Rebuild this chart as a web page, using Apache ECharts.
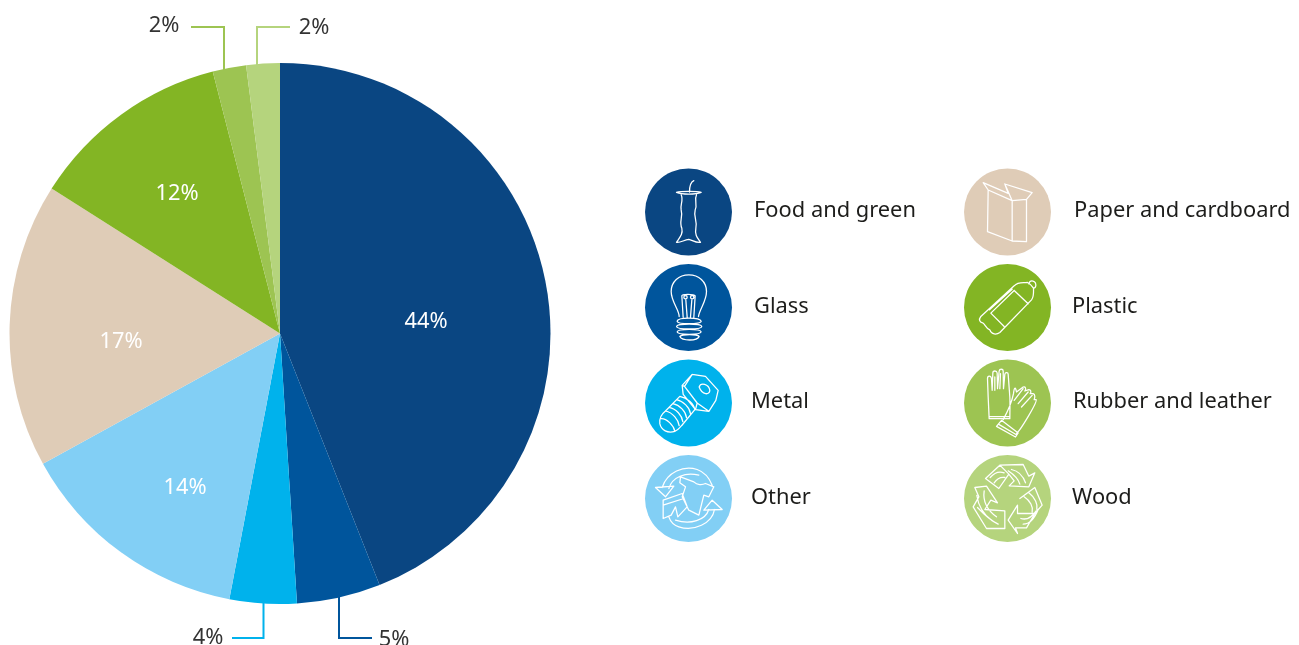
<!DOCTYPE html>
<html>
<head>
<meta charset="utf-8">
<style>html,body{margin:0;padding:0;background:#fff}#chart{width:1299px;height:645px}</style>
<script src="https://cdn.jsdelivr.net/npm/echarts@6/dist/echarts.min.js"></script>
</head>
<body>
<div id="chart"></div>
<script>
// Waste composition by material
var categories = ['Food and green', 'Glass', 'Metal', 'Other', 'Paper and cardboard', 'Plastic', 'Rubber and leather', 'Wood'];
var shares = [44, 5, 4, 14, 17, 12, 2, 2];
var colors = ['#0a4682', '#00559c', '#00b2ec', '#82cff5', '#dfccb7', '#83b524', '#9dc452', '#b5d47d'];

// Percentage label anchors on the page
var labelAnchors = [[426, 322], [394, 640], [208, 638], [185, 488], [121, 342], [177, 194], [164, 26], [314, 28]];
// Elbow leaders for the slices too narrow to hold a label
var leaders = {
  1: [[339, 595], [339, 638], [372, 638]],
  2: [[263.5, 603], [263.5, 638], [232, 638]],
  6: [[224, 70], [224, 27], [191, 27]],
  7: [[257, 65], [257, 27], [290, 27]]
};

// Key layout: circle centres and text starts per material
var keyCircles = [[688.5, 212], [688.5, 307.5], [688.5, 403], [688.5, 498.5], [1007.5, 212], [1007.5, 307.5], [1007.5, 403], [1007.5, 498.5]];
var keyTextX = [754, 754, 751, 751, 1074, 1072, 1073, 1072];
var keyTextY = [211, 307, 402, 498, 211, 307, 402, 498];

// Line-art pictograms, drawn at 3x in a box whose reference point is iconCentres[i]
var iconCentres = [[144, 156], [144, 443], [144, 158], [144, 445], [158, 156], [158, 443], [158, 158], [158, 445]];
var iconPaths = [
  // apple core
  'M160 62C150 66 147 80 147 97M108 97C125 104 165 104 182 97C170 93 120 93 108 97ZM122 104C130 120 118 135 122 150C128 170 115 185 124 205C128 222 118 232 108 247C120 249 130 240 145 238C155 240 165 249 180 247C172 235 162 225 166 205C172 185 158 170 164 150C172 135 160 120 168 104',
  // light bulb
  'M116 470C116 450 92 425 92 395C92 365 115 345 145 345C175 345 198 365 198 395C198 425 176 450 174 470M128 472L124 408C124 402 160 402 164 408L160 472M140 472L136 420M150 472L154 420M130 412A5 5 0 1 0 140 412A5 5 0 1 0 130 412M150 412A5 5 0 1 0 160 412A5 5 0 1 0 150 412M110 484C112 472 178 472 182 484C184 494 110 494 110 484ZM108 500C110 490 182 490 184 500C184 510 108 510 108 500ZM110 516C112 506 180 506 182 516C182 526 110 526 110 516ZM118 530C125 522 170 522 176 530C170 544 125 544 118 530Z',
  // bolt
  'M155 72L195 78L233 120L226 150L205 183L165 178L128 132L125 105ZM155 72L132 108L170 158L205 183M132 108L125 105M170 158L165 178M176 110C180 95 205 100 208 120C208 135 185 135 176 110ZM118 138C140 142 160 160 163 178M108 148C128 152 148 172 150 190M97 160C118 164 136 184 138 202M86 171C107 175 125 196 127 214M75 182C96 186 114 208 116 226M62 205C78 204 100 225 103 243M75 182C62 192 56 205 58 220C62 240 82 250 103 243C112 240 118 232 125 224M118 138L75 182M163 178L125 224',
  // recycling arrows round a shirt and a box
  'M65 412C80 365 130 345 170 358C190 365 205 380 215 405M85 415C95 380 135 365 175 375M45 412L100 408L75 440ZM245 478L215 450L190 480ZM222 478C215 520 160 545 115 530C100 525 90 515 85 500M205 478C195 510 150 525 105 510M120 380L160 395C170 405 185 405 195 400L220 410L205 440L190 435L175 495L145 480L125 440L135 410L118 398ZM68 450L125 430L140 470L112 500L105 470L92 495L68 505ZM68 465L130 445',
  // cardboard box
  'M100 90L172 122L172 243L98 215ZM172 122L215 118L215 245L172 243M100 90L85 68L160 100M150 72L232 98L215 118M150 72L160 100M172 122L150 72',
  // bottle
  'M222 372C226 358 244 362 243 378C242 384 236 386 236 386M218 368C205 370 190 365 178 378L78 470C70 480 75 488 85 490C92 495 92 505 105 510C110 525 125 525 135 518L230 420C238 410 236 395 236 385C232 378 226 372 218 368ZM178 392L220 432M108 460L148 500M172 388L104 450M178 392L108 460',
  // pair of gloves
  'M103 205L100 140L98 85C98 75 108 75 110 85L112 120L114 68C114 60 126 60 127 68L128 115L133 62C134 55 145 55 145 62L146 115L150 72C151 65 160 66 160 72L165 140C166 155 165 190 165 205ZM103 199L165 199M145 208C155 190 170 160 176 130C178 110 182 108 185 125L205 110C212 108 215 115 210 122L222 118C228 118 230 125 226 130L235 130C242 132 240 142 238 148L244 148C248 155 200 235 185 250M125 228L140 210L190 248L182 260ZM132 222L186 254M120 80L120 120M137 70L135 115M178 150L205 115M190 160L220 125M200 170L232 135',
  // recycling arrows with wood grain
  'M92 385L135 345L162 372L132 415ZM135 345L205 343L222 378L240 368L222 410L163 407L178 392L162 372M106 382C118 368 132 362 148 368M118 398C126 386 136 380 150 382M170 358C190 362 205 378 212 398M160 362C175 372 190 385 195 402M60 412L95 408L128 458L108 450L90 478L150 482L150 535L95 535L55 470L72 440ZM66 436C70 465 82 490 112 512M88 422C84 450 95 478 125 500M68 472C85 490 105 510 130 522M195 445L240 412L262 465L240 490L188 490L188 465L160 510L188 550L182 533L215 533L240 490M208 440C226 452 236 470 232 486M222 428C240 442 250 462 246 478M198 505C215 510 232 500 244 482M205 522C222 522 238 508 250 478'
];

// One key entry: filled disc, pictogram and material name
function renderKeyEntry(params) {
  var i = params.dataIndex;
  var c = keyCircles[i];
  return {
    type: 'group',
    children: [{
      type: 'circle',
      shape: { cx: c[0], cy: c[1], r: 43.5 },
      style: { fill: colors[i] }
    }, {
      type: 'path',
      x: c[0] - iconCentres[i][0] / 3,
      y: c[1] - iconCentres[i][1] / 3,
      scaleX: 1 / 3,
      scaleY: 1 / 3,
      shape: { pathData: iconPaths[i] },
      style: { fill: 'none', stroke: '#fff', lineWidth: 3.8, lineJoin: 'round', lineCap: 'round' }
    }, {
      type: 'text',
      x: keyTextX[i],
      y: keyTextY[i],
      style: {
        text: categories[i],
        fill: '#1d1d1b',
        font: '21.85px "Noto Sans"',
        textAlign: 'left',
        textVerticalAlign: 'middle'
      }
    }]
  };
}

var chart = echarts.init(document.getElementById('chart'), null, { renderer: 'canvas' });
chart.setOption({
  animation: false,
  series: [{
    type: 'pie',
    center: [280, 333.5],
    radius: [0, 270.5],
    startAngle: 90,
    clockwise: true,
    avoidLabelOverlap: false,
    silent: true,
    data: categories.map(function (name, i) {
      var outer = !!leaders[i];
      return {
        name: name,
        value: shares[i],
        itemStyle: { color: colors[i] },
        label: { color: outer ? '#333333' : '#ffffff' },
        labelLine: {
          show: outer,
          lineStyle: { color: colors[i], width: 2 }
        }
      };
    }),
    label: {
      show: true,
      position: 'outside',
      formatter: '{c}%',
      fontFamily: '"Noto Sans"',
      fontSize: 21.85
    },
    labelLine: { smooth: false },
    labelLayout: function (p) {
      var a = labelAnchors[p.dataIndex];
      var layout = { x: a[0], y: a[1], align: 'center', verticalAlign: 'middle' };
      if (leaders[p.dataIndex]) layout.labelLinePoints = leaders[p.dataIndex];
      return layout;
    }
  }, {
    type: 'custom',
    coordinateSystem: 'none',
    silent: true,
    clip: false,
    data: categories,
    renderItem: renderKeyEntry
  }]
});
</script>
</body>
</html>
